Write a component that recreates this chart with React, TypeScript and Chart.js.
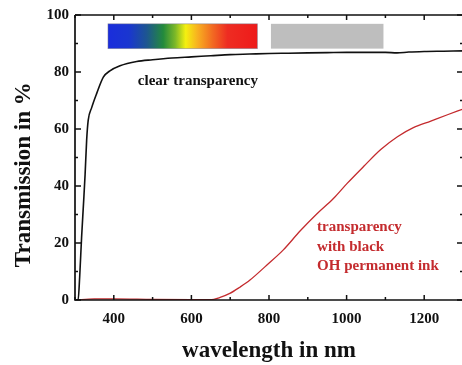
import React, { useEffect, useRef } from "react";
import { Chart, registerables } from "chart.js";

Chart.register(...registerables);

// ---------- data ----------
const clearWavelengths = [300, 308, 312, 317, 322, 326, 330, 334, 343, 356, 373, 390, 416, 459, 500, 550, 600, 650, 700, 750, 800, 850, 900, 950, 1000, 1050, 1100, 1130, 1160, 1200, 1250, 1300];
const clearValues = [0, 0, 8, 22, 34, 44, 56, 63, 67.5, 72.5, 78.2, 80.4, 82.2, 83.7, 84.3, 84.9, 85.3, 85.7, 86.1, 86.3, 86.5, 86.6, 86.7, 86.8, 86.9, 86.9, 86.9, 86.7, 87.0, 87.2, 87.3, 87.4];

const inkWavelengths = [300, 350, 400, 500, 600, 648, 674, 699, 725, 751, 794, 837, 880, 923, 966, 1002, 1045, 1088, 1131, 1172, 1217, 1260, 1300];
const inkValues = [0, 0.4, 0.4, 0.2, 0.1, 0.1, 0.9, 2.3, 4.5, 7, 12.2, 17.6, 24.2, 30.2, 35.6, 41, 47, 52.8, 57.3, 60.5, 62.8, 65, 67];

const xMin = 300;
const xMax = 1300;
const xStep = 100;
const yMin = 0;
const yMax = 100;
const yStep = 10;

const spectrumBand = [385, 770];
const nirBand = [805, 1095];
const bandRange = [88.2, 96.9];

const clearLabel = "clear transparency";
const clearLabelPos = [462, 76.7];
const inkLabelLines = ["transparency", "with black", "OH permanent ink"];
const inkLabelX = 924;
const inkLabelYs = [25.4, 18.5, 11.9];

const xTitle = "wavelength in nm";
const yTitle = "Transmission in %";

const SERIF = "'Liberation Serif', 'Times New Roman', serif";
const RED = "#c42b2e";

const decorPlugin = {
  id: "decor",
  beforeDatasetsDraw(chart: any) {
    const { ctx, scales } = chart;
    const xs = scales.x;
    const ys = scales.y;
    const top = ys.getPixelForValue(bandRange[1]);
    const bot = ys.getPixelForValue(bandRange[0]);
    const sx0 = xs.getPixelForValue(spectrumBand[0]);
    const sx1 = xs.getPixelForValue(spectrumBand[1]);
    const g = ctx.createLinearGradient(sx0, 0, sx1, 0);
    g.addColorStop(0, "#1a2ddc");
    g.addColorStop(0.14, "#1a36d0");
    g.addColorStop(0.26, "#1d5690");
    g.addColorStop(0.37, "#238a3c");
    g.addColorStop(0.45, "#7cb828");
    g.addColorStop(0.52, "#f4f010");
    g.addColorStop(0.6, "#f8b020");
    g.addColorStop(0.7, "#f26a22");
    g.addColorStop(0.8, "#ee2c22");
    g.addColorStop(1, "#ee1a1a");
    ctx.save();
    ctx.fillStyle = g;
    ctx.fillRect(sx0, top, sx1 - sx0, bot - top);
    ctx.strokeStyle = "rgba(120,120,140,0.6)";
    ctx.lineWidth = 0.8;
    ctx.strokeRect(sx0, top, sx1 - sx0, bot - top);
    const gx0 = xs.getPixelForValue(nirBand[0]);
    const gx1 = xs.getPixelForValue(nirBand[1]);
    ctx.fillStyle = "#bebebe";
    ctx.fillRect(gx0, top, gx1 - gx0, bot - top);
    ctx.restore();
  },
  afterDatasetsDraw(chart: any) {
    const { ctx, chartArea, scales } = chart;
    const xs = scales.x;
    const ys = scales.y;
    const { left, right, top, bottom } = chartArea;
    ctx.save();
    ctx.strokeStyle = "#111";
    ctx.lineWidth = 1.7;
    ctx.beginPath();
    ctx.moveTo(left, top);
    ctx.lineTo(right, top);
    ctx.moveTo(left, top);
    ctx.lineTo(left, bottom);
    ctx.lineTo(right, bottom);
    ctx.lineTo(right, top);
    ctx.stroke();
    ctx.lineWidth = 1.5;
    ctx.beginPath();
    ys.ticks.forEach((t: any) => {
      const p = ys.getPixelForValue(t.value);
      const major = t.value % 20 === 0;
      const len = major ? 6 : 3;
      ctx.moveTo(left, p);
      ctx.lineTo(left + len, p);
      ctx.moveTo(right, p);
      ctx.lineTo(right - len, p);
    });
    xs.ticks.forEach((t: any) => {
      const p = xs.getPixelForValue(t.value);
      const major = t.value % 200 === 0;
      const len = major ? 5 : 3;
      ctx.moveTo(p, bottom);
      ctx.lineTo(p, bottom - len);
      ctx.moveTo(p, top);
      ctx.lineTo(p, top + len);
    });
    ctx.stroke();
    ctx.textBaseline = "middle";
    ctx.textAlign = "left";
    ctx.font = `bold 15px ${SERIF}`;
    ctx.fillStyle = "#111";
    ctx.fillText(clearLabel, xs.getPixelForValue(clearLabelPos[0]), ys.getPixelForValue(clearLabelPos[1]));
    ctx.fillStyle = RED;
    inkLabelLines.forEach((line, i) => {
      ctx.fillText(line, xs.getPixelForValue(inkLabelX), ys.getPixelForValue(inkLabelYs[i]));
    });
    ctx.restore();
  },
};

export default function App() {
  const ref = useRef<HTMLCanvasElement>(null);
  useEffect(() => {
    if (!ref.current) return;
    const chart = new Chart(ref.current, {
      type: "line",
      data: {
        datasets: [
          {
            label: "clear transparency",
            data: clearWavelengths.map((x, i) => ({ x, y: clearValues[i] })),
            borderColor: "#111",
            borderWidth: 1.6,
            pointRadius: 0,
            cubicInterpolationMode: "monotone",
            fill: false,
          },
          {
            label: "transparency with black OH permanent ink",
            data: inkWavelengths.map((x, i) => ({ x, y: inkValues[i] })),
            borderColor: RED,
            borderWidth: 1.3,
            pointRadius: 0,
            cubicInterpolationMode: "monotone",
            fill: false,
          },
        ],
      },
      options: {
        animation: false,
        responsive: false,
        layout: { padding: { top: 13, right: 3, left: 0, bottom: 0 } },
        plugins: { legend: { display: false }, tooltip: { enabled: false } },
        scales: {
          x: {
            type: "linear",
            min: xMin,
            max: xMax,
            grid: { display: false, drawTicks: false },
            border: { display: false },
            ticks: {
              stepSize: xStep,
              autoSkip: false,
              maxRotation: 0,
              padding: 10,
              color: "#111",
              font: { family: SERIF, size: 15, weight: "bold" },
              callback: (v: any) => (Number(v) % 200 === 0 ? String(v) : ""),
            },
            title: {
              display: true,
              text: xTitle,
              color: "#111",
              font: { family: SERIF, size: 23, weight: "bold" },
              padding: { top: 0, bottom: 0 },
            },
            afterFit: (s: any) => {
              s.height = 65;
              s.paddingLeft = 0;
              s.paddingRight = 0;
            },
          },
          y: {
            min: yMin,
            max: yMax,
            grid: { display: false, drawTicks: false },
            border: { display: false },
            ticks: {
              stepSize: yStep,
              autoSkip: false,
              padding: 6,
              color: "#111",
              font: { family: SERIF, size: 15, weight: "bold" },
              callback: (v: any) => (Number(v) % 20 === 0 ? String(v) : ""),
            },
            title: {
              display: true,
              text: yTitle + "\u00a0\u00a0\u00a0\u00a0\u00a0\u00a0",
              color: "#111",
              font: { family: SERIF, size: 23, weight: "bold" },
              padding: { top: 10, bottom: 0 },
            },
            afterFit: (s: any) => {
              s.width = 75;
            },
          },
        },
      },
      plugins: [decorPlugin],
    });
    return () => chart.destroy();
  }, []);
  return (
    <div style={{ position: "absolute", left: 0, top: 0, width: 462, height: 365, overflow: "hidden", background: "#fff" }}>
      <canvas ref={ref} width={466} height={365} style={{ display: "block" }} />
    </div>
  );
}
